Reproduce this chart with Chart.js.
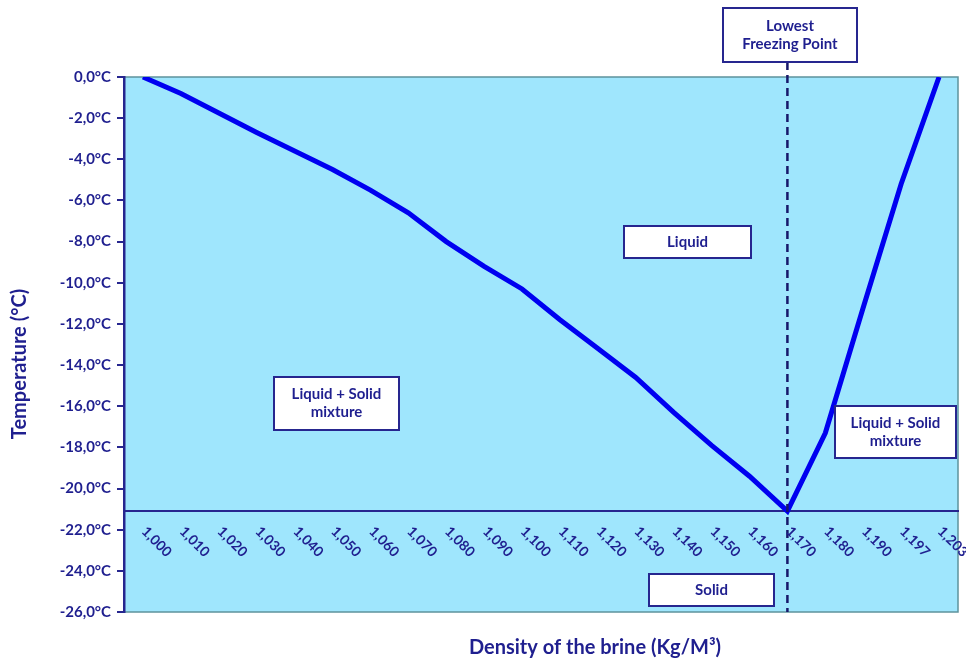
<!DOCTYPE html>
<html>
<head>
<meta charset="utf-8">
<script src="https://cdn.jsdelivr.net/npm/chart.js@4.4.0/dist/chart.umd.min.js"></script>
<style>
  html, body { margin: 0; padding: 0; background: #ffffff; }
  #wrap { width: 966px; height: 660px; }
</style>
</head>
<body>
<div id="wrap"><canvas id="brine-chart" width="966" height="660"></canvas></div>
<script>
// brine density (category labels) and freezing temperature (°C)
var densities = ['1,000', '1,010', '1,020', '1,030', '1,040', '1,050', '1,060', '1,070',
                 '1,080', '1,090', '1,100', '1,110', '1,120', '1,130', '1,140', '1,150',
                 '1,160', '1,170', '1,180', '1,190', '1,197', '1,203'];
var freezeTemps = [0, -0.8, -1.75, -2.7, -3.6, -4.5, -5.5, -6.6,
                   -8.0, -9.2, -10.3, -11.8, -13.2, -14.6, -16.3, -17.9,
                   -19.4, -21.1, -17.3, -11.2, -5.2, 0];
var tempMin = -26;
var tempMax = 0;
var tempStep = 2;
var lowestPoint = '1,170';
var axisCrossTemp = -21.1;

var xTitle = 'Density of the brine (Kg/M\u00b3)';
var yTitle = 'Temperature (\u00b0C)';

var navy = '#1f1f8f';
var lineBlue = '#0000f0';
var plotFill = '#9fe6fd';
var fontFamily = 'Lato, "Open Sans", sans-serif';

// text boxes laid on the chart
var notes = [
    { lines: ['Lowest', 'Freezing Point'], x: 723, y: 8, w: 134, h: 54 },
    { lines: ['Liquid'], x: 624, y: 226, w: 127, h: 32 },
    { lines: ['Liquid + Solid', 'mixture'], x: 274, y: 377, w: 125, h: 53 },
    { lines: ['Liquid + Solid', 'mixture'], x: 835, y: 406, w: 121, h: 52 },
    { lines: ['Solid'], x: 649, y: 574, w: 125, h: 32 }
];

function fmtTemp(v) {
    return v.toFixed(1).replace('.', ',') + '\u00b0C';
}

var decor = {
    id: 'decor',
    beforeDraw: function(chart) {
        var ctx = chart.ctx, a = chart.chartArea;
        ctx.save();
        ctx.fillStyle = plotFill;
        ctx.fillRect(a.left, a.top, a.right - a.left, a.bottom - a.top);
        ctx.strokeStyle = '#5e939c';
        ctx.lineWidth = 1.5;
        ctx.strokeRect(a.left, a.top, a.right - a.left, a.bottom - a.top);
        ctx.restore();
    },
    afterDatasetsDraw: function(chart) {
        var ctx = chart.ctx, a = chart.chartArea;
        var x = chart.scales.x.getPixelForValue(densities.indexOf(lowestPoint));
        ctx.save();
        ctx.strokeStyle = '#17176a';
        ctx.lineWidth = 2.5;
        ctx.setLineDash([8, 5]);
        ctx.beginPath();
        ctx.moveTo(x, notes[0].y + notes[0].h);
        ctx.lineTo(x, a.bottom);
        ctx.stroke();
        ctx.restore();
    },
    afterDraw: function(chart) {
        var ctx = chart.ctx;
        var xs = chart.scales.x, ys = chart.scales.y;
        var axisY = ys.getPixelForValue(axisCrossTemp);
        ctx.save();
        ctx.fillStyle = navy;

        // rotated density labels under the crossing axis
        ctx.font = 'bold 14px ' + fontFamily;
        ctx.textAlign = 'left';
        ctx.textBaseline = 'middle';
        densities.forEach(function(lbl, i) {
            var px = xs.getPixelForValue(i);
            ctx.save();
            ctx.translate(px + 1, axisY + 18);
            ctx.rotate(Math.PI / 4);
            ctx.fillText(lbl, 0, 0);
            ctx.restore();
        });

        // axis titles
        ctx.font = 'bold 20px ' + fontFamily;
        ctx.textAlign = 'center';
        ctx.fillText(xTitle, 595, 648);
        ctx.save();
        ctx.translate(20, 364);
        ctx.rotate(-Math.PI / 2);
        ctx.fillText(yTitle, 0, 0);
        ctx.restore();

        // text boxes
        ctx.font = 'bold 15px ' + fontFamily;
        notes.forEach(function(n) {
            ctx.fillStyle = '#ffffff';
            ctx.fillRect(n.x, n.y, n.w, n.h);
            ctx.strokeStyle = '#26268f';
            ctx.lineWidth = 2;
            ctx.strokeRect(n.x, n.y, n.w, n.h);
            ctx.fillStyle = navy;
            var cx = n.x + n.w / 2;
            var cy = n.y + n.h / 2;
            var lh = 18;
            var y0 = cy - (n.lines.length - 1) * lh / 2;
            n.lines.forEach(function(t, k) {
                ctx.fillText(t, cx, y0 + k * lh);
            });
        });
        ctx.restore();
    }
};

var chart = new Chart(document.getElementById('brine-chart').getContext('2d'), {
    type: 'line',
    data: {
        labels: densities,
        datasets: [{
            label: 'Freezing point',
            data: freezeTemps,
            borderColor: lineBlue,
            borderWidth: 5,
            pointRadius: 0,
            tension: 0,
            fill: false
        }]
    },
    options: {
        responsive: false,
        animation: false,
        devicePixelRatio: 1,
        layout: { padding: { left: 0, top: 77, right: 8, bottom: 48 } },
        plugins: {
            legend: { display: false },
            tooltip: { enabled: false }
        },
        scales: {
            x: {
                type: 'category',
                offset: true,
                position: { y: axisCrossTemp },
                grid: { display: false },
                border: { display: true, color: '#26268f', width: 2 },
                ticks: { display: false }
            },
            y: {
                min: tempMin,
                max: tempMax,
                afterFit: function(scale) { scale.width = 124; },
                ticks: {
                    stepSize: tempStep,
                    padding: 6,
                    color: navy,
                    font: { family: fontFamily, size: 15, weight: 'bold' },
                    callback: function(v) { return fmtTemp(v); }
                },
                grid: {
                    drawOnChartArea: false,
                    drawTicks: true,
                    tickLength: 7,
                    color: '#26268f',
                    lineWidth: 2
                },
                border: { display: true, color: '#26268f', width: 2.5 }
            }
        }
    },
    plugins: [decor]
});
</script>
</body>
</html>
